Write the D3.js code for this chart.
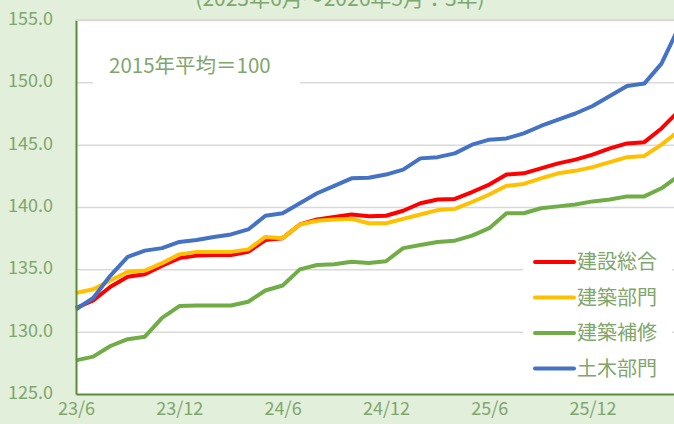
<!DOCTYPE html>
<html>
<head>
<meta charset="utf-8">
<script src="https://cdn.jsdelivr.net/npm/d3@7"></script>
<style>
  body { margin: 0; background: #e2efda; }
  svg { display: block; }
  text { font-family: "Noto Sans CJK JP", "Noto Sans", sans-serif; fill: #7fa66c; }
</style>
</head>
<body>
<script>
// data: 2023/6 - 2026/5 (36 months)
const months = [];
for (let i = 0; i < 36; i++) {
  const y = 23 + Math.floor((5 + i) / 12);
  const m = ((5 + i) % 12) + 1;
  months.push(y + "/" + m);
}
const tickLabels = ["23/6", "23/12", "24/6", "24/12", "25/6", "25/12"];
const yTicks = [125, 130, 135, 140, 145, 150, 155];

const sogo = [131.9, 132.5, 133.6, 134.4, 134.6, 135.3, 135.9, 136.1, 136.15, 136.15, 136.4, 137.35,
  137.5, 138.6, 139.0, 139.2, 139.4, 139.25, 139.3, 139.7, 140.3, 140.6, 140.65, 141.2,
  141.8, 142.6, 142.7, 143.1, 143.5, 143.8, 144.2, 144.7, 145.1, 145.2, 146.3, 147.7];
const kenchiku = [133.1, 133.4, 134.1, 134.8, 134.9, 135.5, 136.2, 136.4, 136.4, 136.4, 136.6, 137.6,
  137.5, 138.6, 138.9, 139.0, 139.05, 138.7, 138.7, 139.05, 139.4, 139.75, 139.85, 140.4,
  141.0, 141.7, 141.85, 142.3, 142.7, 142.9, 143.2, 143.6, 144.0, 144.1, 145.0, 146.1];
const hoshu = [127.7, 128.0, 128.85, 129.4, 129.6, 131.1, 132.05, 132.1, 132.1, 132.1, 132.4, 133.3,
  133.7, 135.0, 135.35, 135.4, 135.6, 135.5, 135.65, 136.7, 136.95, 137.2, 137.3, 137.7,
  138.3, 139.5, 139.5, 139.9, 140.05, 140.2, 140.45, 140.6, 140.85, 140.85, 141.5, 142.5];
const doboku = [131.8, 132.7, 134.5, 136.0, 136.5, 136.7, 137.2, 137.35, 137.6, 137.8, 138.2, 139.3,
  139.5, 140.3, 141.1, 141.7, 142.3, 142.35, 142.6, 143.0, 143.9, 144.0, 144.3, 145.0,
  145.4, 145.5, 145.9, 146.5, 147.0, 147.5, 148.1, 148.9, 149.7, 149.9, 151.5, 154.4];

const series = [
  { name: "建設総合", values: sogo, color: "#ff0000" },
  { name: "建築部門", values: kenchiku, color: "#ffc000" },
  { name: "建築補修", values: hoshu, color: "#70ad47" },
  { name: "土木部門", values: doboku, color: "#4472c4" },
];

const width = 674, height = 424;
const plotLeft = 76, plotTop = 20, plotBottom = 394;

const svg = d3.select("body").append("svg")
  .attr("width", width)
  .attr("height", height);

const xScale = d3.scalePoint().domain(months).range([plotLeft, plotLeft + 35 * 17.22]);
const yScale = d3.scaleLinear().domain([125, 155]).range([plotBottom, plotTop]);

// plot area
svg.append("rect")
  .attr("x", plotLeft).attr("y", plotTop)
  .attr("width", width - plotLeft).attr("height", plotBottom - plotTop)
  .attr("fill", "#fff");

// gridlines
svg.append("g")
  .attr("transform", "translate(" + plotLeft + ",0)")
  .call(d3.axisLeft(yScale).tickValues(yTicks.slice(1)).tickSize(-(width - plotLeft)).tickFormat(""))
  .call((g) => g.select(".domain").remove())
  .selectAll("line")
  .attr("stroke", "#d9d9d9")
  .attr("stroke-width", 1.5);

// annotation box
svg.append("rect")
  .attr("x", 93).attr("y", 44).attr("width", 207).attr("height", 50)
  .attr("fill", "#fff");
svg.append("text")
  .attr("x", 109).attr("y", 73)
  .style("font-size", "20.5px")
  .text("2015年平均＝100");

// title (cut off at top, as in the original)
svg.append("text")
  .attr("x", 340).attr("y", 6)
  .attr("text-anchor", "middle")
  .style("font-size", "21px")
  .text("(2023年6月～2026年5月：3年)");

// lines
const line = d3.line()
  .x((d, i) => xScale(months[i]))
  .y((d) => yScale(d));

svg.append("g")
  .selectAll("path")
  .data(series)
  .enter()
  .append("path")
  .attr("d", (d) => line(d.values))
  .attr("fill", "none")
  .attr("stroke", (d) => d.color)
  .attr("stroke-width", 4)
  .attr("stroke-linejoin", "round");

// axes
const yAxis = svg.append("g")
  .attr("transform", "translate(" + plotLeft + ",0)")
  .call(d3.axisLeft(yScale).tickValues(yTicks).tickSize(0).tickPadding(23).tickFormat(d3.format(".1f")));
yAxis.select(".domain").attr("stroke", "#5b8c3a").attr("stroke-width", 2);
yAxis.selectAll("text").style("font-size", "18px").attr("fill", "#7fa66c").attr("dy", "0.25em");

const xAxis = svg.append("g")
  .attr("transform", "translate(0," + plotBottom + ")")
  .call(d3.axisBottom(xScale).tickValues(tickLabels).tickSize(0).tickPadding(8));
xAxis.select(".domain").attr("stroke", "#5b8c3a").attr("stroke-width", 2);
xAxis.selectAll("text").style("font-size", "18px").attr("fill", "#7fa66c");

// top border of plot
svg.append("line")
  .attr("x1", plotLeft).attr("x2", width)
  .attr("y1", plotTop).attr("y2", plotTop)
  .attr("stroke", "#d9d9d9").attr("stroke-width", 1.5);

// legend
const legend = svg.append("g").attr("id", "legend");
legend.append("rect")
  .attr("x", 523).attr("y", 242).attr("width", 149).attr("height", 146)
  .attr("fill", "#fff");

const items = legend.selectAll(".legend-item")
  .data(series)
  .enter()
  .append("g")
  .attr("class", "legend-item")
  .attr("transform", (d, i) => "translate(0," + (262 + i * 35.5) + ")");

items.append("line")
  .attr("x1", 535).attr("x2", 574)
  .attr("stroke", (d) => d.color)
  .attr("stroke-width", 4)
  .attr("stroke-linecap", "round");

items.append("text")
  .attr("x", 577).attr("y", 7)
  .style("font-size", "20px")
  .text((d) => d.name);
</script>
</body>
</html>
